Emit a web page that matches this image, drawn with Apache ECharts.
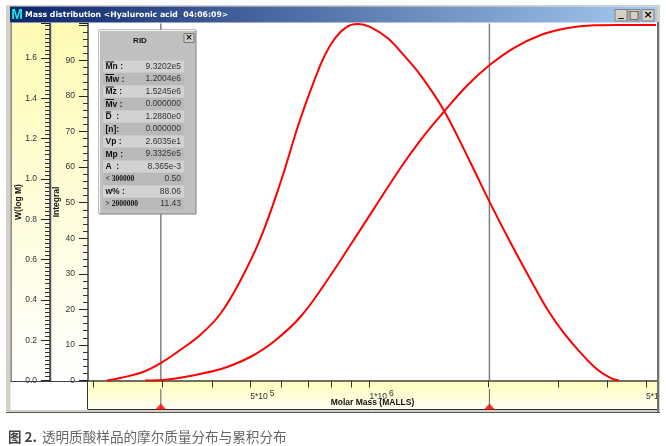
<!DOCTYPE html>
<html><head><meta charset="utf-8">
<script src="https://cdn.jsdelivr.net/npm/echarts@6/dist/echarts.min.js"></script>
<style>html,body{margin:0;padding:0;background:#fff}#c{width:666px;height:446px}</style>
</head><body><div id="c"></div>
<script>
const windowTitle = 'Mass distribution <Hyaluronic acid  04:06:09>';
const caption = '透明质酸样品的摩尔质量分布与累积分布';
const distMass = [2.171e5,2.342e5,2.678e5,2.974e5,3.322e5,3.735e5,4.197e5,4.714e5,5.297e5,5.953e5,6.688e5,7.513e5,7.968e5,8.446e5,8.952e5,9.380e5,1.006e6,1.111e6,1.219e6,1.346e6,1.540e6,1.802e6,2.013e6,2.275e6,2.556e6,2.822e6,3.098e6,3.422e6,3.778e6,4.075e6,4.270e6];
const distW = [0,0.012,0.042,0.087,0.151,0.226,0.330,0.494,0.702,0.980,1.297,1.565,1.664,1.729,1.763,1.768,1.753,1.699,1.615,1.515,1.342,1.079,0.885,0.682,0.499,0.350,0.236,0.136,0.052,0.012,0];
const intMass = [2.710e5,3.098e5,3.735e5,4.370e5,4.996e5,5.715e5,6.688e5,7.738e5,8.952e5,1.198e6,1.346e6,1.540e6,1.771e6,2.013e6,2.315e6,2.710e6,3.172e6,3.690e6,4.245e6,5.299e6];
const intValue = [0,0.3,1.83,3.80,6.61,10.83,17.86,27.42,38.10,59.76,67.63,75.51,83.10,88.72,93.50,97.16,99.13,99.9,100,100];
const cursorMass = [2.97e5,2.01e6];
const massTicks = [2e5,3e5,4e5,5e5,6e5,7e5,8e5,9e5,1e6,2e6,3e6,4e6,5e6];
const massLabels = [5e5,1e6,5e6];
const massMin = 1.944e5, massMax = 5.33e6;
const wMax = 1.771, intMax = 100.4;
const panelTitle = 'RID';
const panelLabels = ['Mn :','Mw :','Mz :','Mv :','D  :','[n]:','Vp :','Mp :','A  :','< 300000','w% :','> 2000000'];
const panelValues = ['9.3202e5','1.2004e6','1.5245e6','0.000000','1.2880e0','0.000000','2.6035e1','9.3325e5','8.365e-3','0.50','88.06','11.43'];

const SANS = '"Liberation Sans",Arial,sans-serif';
const pair = (xs, ys) => xs.map((x, i) => [x, ys[i]]);
const FRONT = 100;
function rect(x, y, w, h, fill, z, stroke) {
  return {type:'rect', silent:true, z:z===undefined?FRONT:z, shape:{x,y,width:w,height:h}, style:{fill, stroke:stroke||null, lineWidth:stroke?1:0}};
}
function vGrad(a, b) { return {type:'linear',x:0,y:0,x2:0,y2:1,colorStops:[{offset:0,color:a},{offset:1,color:b}]}; }
function txt(x, y, text, font, fill, align, z) {
  return {type:'text', silent:true, z:z===undefined?FRONT+2:z, x, y, style:{text, font, fill, align:align||'left', verticalAlign:'middle'}};
}
function line(x1, y1, x2, y2, color, z, w) {
  return {type:'line', silent:true, z:z===undefined?FRONT+1:z, shape:{x1,y1,x2,y2}, style:{stroke:color, lineWidth:w||1}};
}
const g = [];
g.push(rect(11.5,23,38,358,vGrad('#fffbb4','#ffffff'),-1));
g.push(rect(52,23,35,358,vGrad('#fffbb4','#ffffff'),-1));
g.push(rect(87.5,381,570,28,vGrad('#fffdb8','#fffff2'),-1));
g.push(line(11,23,11,381,'#404040',1,1.2));
g.push(line(50.5,23,50.5,381,'#505050',1,1.5));
g.push(line(87.5,381,87.5,409,'#303030',5,1));
g.push(line(87.5,409.5,657,409.5,'#303030',5,1));
g.push(line(10,381.5,88,381.5,'#404040',5,1));
g.push(rect(6,5,4.5,408,'#d4d0c8'));
g.push(rect(657,5,3,408,'#d4d0c8'));
g.push(line(658,22,658,412,'#555555',FRONT+1,1.5));
g.push(rect(660,5,6,408,'#ffffff'));
g.push(rect(6,410,654,3,'#d4d0c8'));
g.push(line(6,412.5,660,412.5,'#555555',FRONT+1,1));
g.push(rect(6,5,654,1.5,'#d4d0c8'));
g.push({type:'rect',silent:true,z:FRONT,shape:{x:10,y:6.5,width:647,height:16},style:{fill:{type:'linear',x:0,y:0,x2:1,y2:0,colorStops:[{offset:0,color:'#0a246a'},{offset:1,color:'#a6caf0'}]}}});
g.push(rect(11,8,12,13,'#0a2a6a',FRONT+1));
g.push(txt(17,15,'M','bold 14px '+SANS,'#19e6e6','center'));
g.push(txt(25,15,windowTitle,'bold 7.75px "DejaVu Sans",sans-serif','#ffffff'));
[[615,'_'],[628,'□'],[642,'×']].forEach(([x,s]) => {
  g.push(rect(x,9.5,12,11.5,'#d4d0c8',FRONT+1,'#808080'));
  g.push(txt(x+6,s==='_'?13:15,s,'bold 11px "DejaVu Sans",sans-serif','#000000','center'));
});
g.push(rect(99,30,97,184,'#c0c0c0',FRONT,'#808080'));
g.push(line(99.5,30.5,195.5,30.5,'#f4f4f4'));
g.push(line(99.5,30.5,99.5,213.5,'#f4f4f4'));
g.push(txt(140,40.5,panelTitle,'bold 8px '+SANS,'#111111','center'));
g.push(rect(184,33.5,10,9,'#d4d0c8',FRONT+1,'#777777'));
g.push(txt(189,38,'×','bold 9px "DejaVu Sans",sans-serif','#000000','center'));
panelLabels.forEach((lab,i) => {
  const top = 60.5 + i*12.5;
  g.push(rect(103,top,81,12,i%2?'#b9b9b9':'#d2d2d2'));
  const small = lab.charAt(0)==='<' || lab.charAt(0)==='>';
  g.push(txt(105.5,top+6.3,lab,small?'bold 7.5px "Liberation Serif",serif':'bold 8.5px '+SANS,'#111111'));
  g.push(txt(181,top+5.8,panelValues[i],'8.5px '+SANS,'#333333','right'));
  if (i<5) g.push(line(105.5,top+1.5,i===4?111:114,top+1.5,'#111111'));
});

const chart = echarts.init(document.getElementById('c'), null, {renderer:'canvas'});
const yAxisCommon = (max, interval, minor, offset, fmt) => ({
  type:'value', min:0, max, interval, position:'left', offset, gridIndex:0,
  splitLine:{show:false},
  axisLine:{show:true,onZero:false,lineStyle:{color:'#404040',width:1.5}},
  axisTick:{show:true,length:9,lineStyle:{color:'#222222',width:1}},
  minorTick:{show:true,splitNumber:minor,length:5,lineStyle:{color:'#333333',width:1}},
  axisLabel:{color:'#333333',fontFamily:SANS,fontSize:8.5,margin:13,showMaxLabel:false,padding:[0,0,4,0],formatter:fmt},
  nameLocation:'middle', nameRotate:90, nameMoveOverlap:false,
  nameTextStyle:{fontFamily:SANS,fontSize:8.5,fontWeight:'bold',color:'#111111'}
});
chart.setOption({
  animation:false,
  backgroundColor:'#ffffff',
  title:{left:8,top:428,padding:0,text:'{b|图 2.} {t|'+caption+'}',textStyle:{fontWeight:'normal',rich:{
    b:{fontFamily:'"Noto Sans CJK SC",sans-serif',fontSize:13.5,fontWeight:'bold',color:'#444444'},
    t:{fontFamily:'"Noto Sans CJK SC",sans-serif',fontSize:13.6,fontWeight:'normal',color:'#666666'}}}},
  grid:[
    {left:88,right:9,top:23.5,height:357,show:true,backgroundColor:'#ffffff',borderWidth:0,outerBoundsMode:'none'},
    {left:88,right:9,top:381,height:28,show:false,outerBoundsMode:'none'}
  ],
  xAxis:[
    {type:'log',gridIndex:0,min:massMin,max:massMax,position:'bottom',
     splitLine:{show:false},minorTick:{show:false},minorSplitLine:{show:false},
     axisLine:{show:true,onZero:false,lineStyle:{color:'#404040',width:1.5}},
     axisTick:{show:true,length:7,customValues:massTicks,lineStyle:{color:'#333333',width:1}},
     axisLabel:{show:true,customValues:massLabels,align:'left',margin:8,hideOverlap:false,
       formatter:v=>{const e=Math.floor(Math.log10(v)+1e-9);return '{a|'+Math.round(v/Math.pow(10,e))+'*10}{s|'+e+'}';},
       rich:{a:{fontFamily:SANS,fontSize:8.5,color:'#333333',padding:[4,2,0,0]},s:{fontFamily:SANS,fontSize:8.5,color:'#333333',padding:[0,0,3,0]}}},
     name:'Molar Mass (MALLS)',nameLocation:'middle',nameGap:18,nameMoveOverlap:false,
     nameTextStyle:{fontFamily:SANS,fontSize:8.5,fontWeight:'bold',color:'#111111'}},
    {type:'log',gridIndex:1,min:massMin,max:massMax,show:false}
  ],
  yAxis:[
    Object.assign(yAxisCommon(wMax,0.2,10,38,v=>v.toFixed(1)),{name:'W(log M)',nameGap:27}),
    Object.assign(yAxisCommon(intMax,10,5,0,v=>v>=100?'':String(v)),{name:'Integral',nameGap:27}),
    {type:'value',gridIndex:1,min:0,max:1,show:false}
  ],
  series:[
    ...cursorMass.map(m=>({type:'line',xAxisIndex:0,yAxisIndex:0,z:1,symbol:'none',silent:true,data:[[m,0],[m,wMax]],lineStyle:{color:'#808080',width:1.5}})),
    {name:'W(log M)',type:'line',xAxisIndex:0,yAxisIndex:0,z:3,symbol:'none',smooth:0.4,data:pair(distMass,distW),lineStyle:{color:'#ff0000',width:2}},
    {name:'Integral',type:'line',xAxisIndex:0,yAxisIndex:1,z:3,symbol:'none',smooth:0.4,data:pair(intMass,intValue),lineStyle:{color:'#ff0000',width:2}},
    ...cursorMass.map(m=>({type:'line',xAxisIndex:1,yAxisIndex:2,z:6,symbol:'none',silent:true,data:[[m,0],[m,0.72]],lineStyle:{color:'#606060',width:1}})),
    {type:'scatter',xAxisIndex:1,yAxisIndex:2,z:7,silent:true,symbol:'triangle',symbolSize:[11,6],data:cursorMass.map(m=>[m,0.09]),itemStyle:{color:'#ff0000'}}
  ],
  graphic:{elements:g}
});
</script></body></html>
